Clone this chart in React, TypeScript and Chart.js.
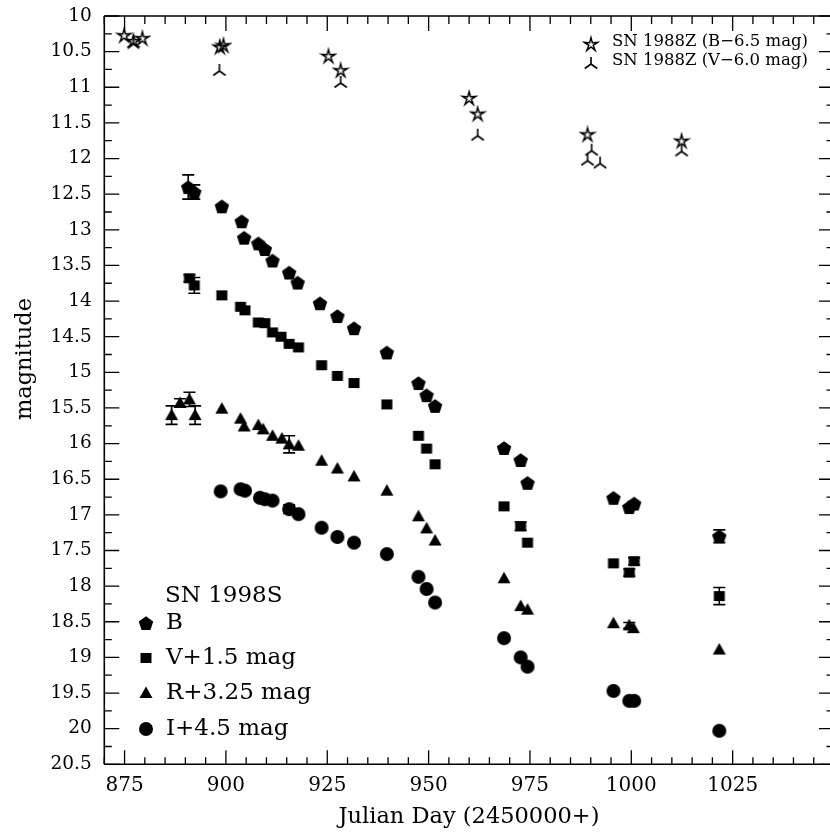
import React, { useEffect, useRef } from 'react';
import { Chart, registerables } from 'chart.js';
Chart.register(...registerables);

// ---------- data (Julian Day - 2450000, magnitude) ----------
const bDays = [890.7, 892.2, 899.0, 903.9, 904.5, 908.0, 909.6, 911.5, 915.6, 917.7, 923.2, 927.5, 931.6, 939.7, 947.5, 949.5, 951.6, 968.6, 972.7, 974.4, 995.6, 999.5, 1000.7, 1021.7];
const bMags = [12.40, 12.47, 12.67, 12.88, 13.11, 13.19, 13.27, 13.43, 13.60, 13.74, 14.03, 14.21, 14.38, 14.72, 15.15, 15.32, 15.47, 16.06, 16.23, 16.55, 16.76, 16.89, 16.84, 17.30];
const bErr = [0.17, 0.10, 0, 0, 0, 0, 0, 0, 0, 0, 0, 0, 0, 0, 0, 0, 0, 0, 0, 0, 0, 0, 0, 0.09];

const vDays = [891.0, 892.2, 899.0, 903.6, 904.7, 908.0, 909.6, 911.5, 913.6, 915.6, 917.9, 923.6, 927.5, 931.6, 939.7, 947.5, 949.5, 951.6, 968.6, 972.7, 974.4, 995.6, 999.5, 1000.7, 1021.7];
const vMags = [13.68, 13.78, 13.92, 14.08, 14.13, 14.30, 14.31, 14.44, 14.50, 14.60, 14.65, 14.90, 15.05, 15.15, 15.45, 15.89, 16.07, 16.29, 16.88, 17.16, 17.39, 17.68, 17.81, 17.65, 18.14];
const vErr = [0.05, 0.11, 0, 0, 0, 0, 0, 0, 0, 0, 0, 0, 0, 0, 0, 0, 0, 0, 0, 0.06, 0, 0, 0.05, 0.05, 0.12];

const rDays = [886.6, 888.7, 891.0, 892.4, 899.0, 903.6, 904.5, 908.0, 909.2, 911.5, 913.8, 915.6, 917.9, 923.6, 927.5, 931.6, 939.7, 947.5, 949.5, 951.6, 968.6, 972.7, 974.4, 995.6, 999.5, 1000.5, 1021.7];
const rMags = [15.60, 15.43, 15.38, 15.60, 15.51, 15.65, 15.76, 15.74, 15.80, 15.89, 15.93, 16.01, 16.03, 16.24, 16.35, 16.46, 16.66, 17.02, 17.19, 17.36, 17.89, 18.28, 18.33, 18.52, 18.55, 18.59, 18.89];
const rErr = [0.13, 0.06, 0.10, 0.13, 0, 0, 0, 0, 0, 0, 0, 0.12, 0, 0, 0, 0, 0, 0, 0, 0, 0, 0, 0, 0, 0.04, 0, 0];

const iDays = [898.7, 903.6, 904.7, 908.4, 909.6, 911.5, 915.6, 917.9, 923.6, 927.5, 931.6, 939.7, 947.5, 949.5, 951.6, 968.6, 972.7, 974.4, 995.6, 999.5, 1000.7, 1021.7];
const iMags = [16.67, 16.64, 16.66, 16.76, 16.78, 16.80, 16.92, 16.99, 17.18, 17.31, 17.39, 17.55, 17.87, 18.04, 18.23, 18.73, 19.00, 19.13, 19.47, 19.61, 19.61, 20.03];
const iErr = [0, 0, 0, 0, 0, 0, 0.06, 0, 0, 0, 0, 0, 0, 0, 0, 0, 0, 0, 0, 0, 0, 0];

const zbDays = [874.9, 877.2, 879.4, 898.5, 899.4, 925.3, 928.3, 960.0, 962.1, 989.2, 1012.4];
const zbMags = [10.27, 10.35, 10.31, 10.43, 10.41, 10.56, 10.76, 11.15, 11.37, 11.66, 11.75];

const zvDays = [877.2, 898.4, 928.3, 962.1, 989.2, 990.2, 992.3, 1012.4];
const zvMags = [10.38, 10.77, 10.94, 11.68, 12.03, 11.89, 12.07, 11.90];

const xTickValues = [875, 900, 925, 950, 975, 1000, 1025];
const yTickValues = [10, 10.5, 11, 11.5, 12, 12.5, 13, 13.5, 14, 14.5, 15, 15.5, 16, 16.5, 17, 17.5, 18, 18.5, 19, 19.5, 20, 20.5];

const xTitle = 'Julian Day (2450000+)';
const yTitle = 'magnitude';
const legendTitle = 'SN 1998S';
const legendLabels = ['B', 'V+1.5 mag', 'R+3.25 mag', 'I+4.5 mag'];
const zLegendLabels = ['SN 1988Z (B\u22126.5 mag)', 'SN 1988Z (V\u22126.0 mag)'];

const SERIF = '"DejaVu Serif"';

// ---------- markers ----------
function mk(size: number, draw: (ctx: CanvasRenderingContext2D) => void) {
  const c = document.createElement('canvas');
  c.width = size;
  c.height = size;
  const ctx = c.getContext('2d')!;
  ctx.translate(size / 2, size / 2);
  ctx.fillStyle = '#000';
  ctx.strokeStyle = '#000';
  draw(ctx);
  return c;
}
function makeMarkers() {
  const pentagon = mk(18, (ctx) => {
    ctx.beginPath();
    for (let k = 0; k < 5; k++) {
      const a = -Math.PI / 2 + (k * 2 * Math.PI) / 5;
      const px = 7.6 * Math.cos(a), py = 7.6 * Math.sin(a) + 0.8;
      k === 0 ? ctx.moveTo(px, py) : ctx.lineTo(px, py);
    }
    ctx.closePath();
    ctx.fill();
  });
  const square = mk(14, (ctx) => { ctx.fillRect(-5.5, -5, 11, 10); });
  const triangle = mk(16, (ctx) => {
    ctx.beginPath();
    ctx.moveTo(0, -6.5); ctx.lineTo(6.5, 5); ctx.lineTo(-6.5, 5);
    ctx.closePath();
    ctx.fill();
  });
  const circle = mk(16, (ctx) => { ctx.beginPath(); ctx.arc(0, 0, 7, 0, Math.PI * 2); ctx.fill(); });
  const star = mk(18, (ctx) => {
    ctx.lineWidth = 1.5;
    ctx.lineJoin = 'miter';
    ctx.beginPath();
    for (let k = 0; k < 10; k++) {
      const a = -Math.PI / 2 + (k * Math.PI) / 5;
      const r = k % 2 === 0 ? 7 : 2.3;
      const px = r * Math.cos(a), py = r * Math.sin(a) + 0.6;
      k === 0 ? ctx.moveTo(px, py) : ctx.lineTo(px, py);
    }
    ctx.closePath();
    ctx.stroke();
  });
  const tripod = mk(18, (ctx) => {
    ctx.lineWidth = 1.6;
    ctx.beginPath();
    ctx.moveTo(0, 0); ctx.lineTo(0, -7);
    ctx.moveTo(0, 0); ctx.lineTo(-6.2, 4.5);
    ctx.moveTo(0, 0); ctx.lineTo(6.2, 4.5);
    ctx.stroke();
  });
  return { pentagon, square, triangle, circle, star, tripod };
}

const pts = (xs: number[], ys: number[]) => xs.map((x, i) => ({ x, y: ys[i] }));
const zeroPad = (s: any) => { s.paddingTop = 0; s.paddingBottom = 0; s.paddingLeft = 0; s.paddingRight = 0; };

export default function App() {
  const ref = useRef<HTMLCanvasElement>(null);
  useEffect(() => {
    const canvas = ref.current!;
    const m = makeMarkers();
    const errSets = [bErr, vErr, rErr, iErr];

    const overlay = {
      id: 'overlay',
      afterDatasetsDraw(chart: any) {
        const ctx = chart.ctx;
        const xs = chart.scales.x, ys = chart.scales.y;
        ctx.save();
        ctx.strokeStyle = '#000';
        ctx.lineWidth = 1.6;
        errSets.forEach((errs, di) => {
          const data = chart.data.datasets[di].data;
          errs.forEach((e: number, i: number) => {
            if (!e) return;
            const px = xs.getPixelForValue(data[i].x);
            const y1 = ys.getPixelForValue(data[i].y - e);
            const y2 = ys.getPixelForValue(data[i].y + e);
            ctx.beginPath();
            ctx.moveTo(px, y1); ctx.lineTo(px, y2);
            ctx.moveTo(px - 6, y1); ctx.lineTo(px + 6, y1);
            ctx.moveTo(px - 6, y2); ctx.lineTo(px + 6, y2);
            ctx.stroke();
          });
        });
        ctx.restore();
      },
      afterDraw(chart: any) {
        const ctx = chart.ctx;
        const a = chart.chartArea;
        const xs = chart.scales.x, ys = chart.scales.y;
        ctx.save();
        ctx.strokeStyle = '#000';
        ctx.lineWidth = 1.6;
        ctx.beginPath();
        ctx.moveTo(a.left, a.top); ctx.lineTo(a.right, a.top);
        ctx.moveTo(a.left, a.top); ctx.lineTo(a.left, a.bottom);
        ctx.moveTo(a.left, a.bottom); ctx.lineTo(a.right, a.bottom);
        ctx.moveTo(a.right, a.top); ctx.lineTo(a.right, a.bottom);
        ctx.stroke();
        ctx.lineWidth = 1.3;
        ctx.beginPath();
        for (let d = xs.min; d <= xs.max + 0.001; d += 5) {
          const px = xs.getPixelForValue(d);
          const major = Math.abs(d % 25) < 0.001;
          const lb = major ? 14 : 7;
          const lt = major ? 15 : 8;
          ctx.moveTo(px, a.bottom); ctx.lineTo(px, a.bottom - lb);
          ctx.moveTo(px, a.top); ctx.lineTo(px, a.top + lt);
        }
        for (let v = 10; v <= 20.5001; v += 0.25) {
          const py = ys.getPixelForValue(v);
          const major = Math.abs((v * 2) % 1) < 0.001;
          const l = major ? 15 : 7.5;
          ctx.moveTo(a.left, py); ctx.lineTo(a.left + l, py);
          ctx.moveTo(a.right, py); ctx.lineTo(a.right - l, py);
        }
        ctx.stroke();

        ctx.fillStyle = '#000';
        // axis titles
        ctx.font = `22.5px ${SERIF}`;
        ctx.textAlign = 'center';
        ctx.textBaseline = 'alphabetic';
        ctx.fillText(xTitle, 469, 823);
        ctx.save();
        ctx.translate(31, 359);
        ctx.rotate(-Math.PI / 2);
        ctx.fillText(yTitle, 0, 0);
        ctx.restore();

        // SN 1988Z legend (top right)
        ctx.textBaseline = 'middle';
        ctx.font = `16.5px ${SERIF}`;
        ctx.textAlign = 'left';
        ctx.drawImage(m.star, 591 - 9, 44 - 9);
        ctx.fillText(zLegendLabels[0], 612, 42);
        ctx.drawImage(m.tripod, 591 - 9, 64 - 9);
        ctx.fillText(zLegendLabels[1], 612, 61);

        // SN 1998S legend (bottom left)
        ctx.font = `23px ${SERIF}`;
        ctx.fillText(legendTitle, 165, 596);
        const mks = [m.pentagon, m.square, m.triangle, m.circle];
        const ly = [623, 658, 693, 729];
        mks.forEach((img, k) => {
          ctx.drawImage(img, 146 - img.width / 2, ly[k] - img.height / 2);
          ctx.fillText(legendLabels[k], 166, ly[k]);
        });
        ctx.restore();
      },
    };

    const chart = new Chart(canvas, {
      type: 'scatter',
      data: {
        datasets: [
          { data: pts(bDays, bMags), pointStyle: m.pentagon as any },
          { data: pts(vDays, vMags), pointStyle: m.square as any },
          { data: pts(rDays, rMags), pointStyle: m.triangle as any },
          { data: pts(iDays, iMags), pointStyle: m.circle as any },
          { data: pts(zbDays, zbMags), pointStyle: m.star as any },
          { data: pts(zvDays, zvMags), pointStyle: m.tripod as any },
        ],
      },
      options: {
        responsive: false,
        animation: false,
        events: [],
        devicePixelRatio: 1,
        layout: { autoPadding: false, padding: { top: 16, right: 0, left: 0, bottom: 0 } },
        plugins: { legend: { display: false }, tooltip: { enabled: false } },
        scales: {
          x: {
            type: 'linear',
            min: 870,
            max: 1050,
            grid: { display: false, drawTicks: false },
            border: { display: false },
            afterBuildTicks: (s: any) => { s.ticks = xTickValues.map((v) => ({ value: v })); },
            afterFit: (s: any) => { s.height = 67.7; zeroPad(s); },
            ticks: {
              color: '#000',
              padding: 9.5,
              maxRotation: 0,
              font: { family: SERIF, size: 20 },
              callback: (v: any) => String(v),
            },
          },
          y: {
            type: 'linear',
            reverse: true,
            min: 10,
            max: 20.5,
            grid: { display: false, drawTicks: false },
            border: { display: false },
            afterBuildTicks: (s: any) => { s.ticks = yTickValues.map((v) => ({ value: v })); },
            afterFit: (s: any) => { s.width = 104.3; zeroPad(s); },
            ticks: {
              color: '#000',
              padding: 12.6,
              font: { family: SERIF, size: 18.5 },
              callback: (v: any) => String(v),
            },
          },
        },
      },
      plugins: [overlay],
    });
    return () => chart.destroy();
  }, []);

  return (
    <div style={{ position: 'fixed', left: 0, top: 0, width: 830, height: 832, overflow: 'hidden', background: '#fff' }}>
      <canvas ref={ref} width={834} height={832} style={{ width: 834, height: 832, display: 'block' }} />
    </div>
  );
}
